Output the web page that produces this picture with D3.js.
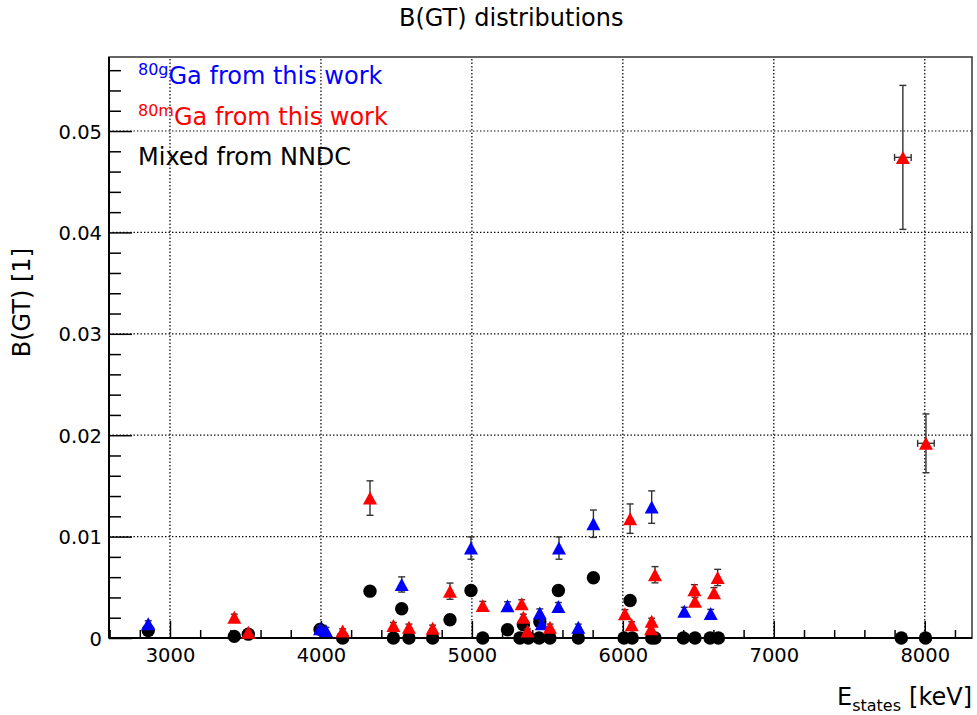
<!DOCTYPE html>
<html><head><meta charset="utf-8">
<script src="https://cdn.jsdelivr.net/npm/d3@7"></script>
<style>
body{margin:0;background:#fff}
svg text{font-family:"DejaVu Sans",sans-serif;fill:#000}
</style>
</head><body>
<svg id="c" width="977" height="715"></svg>
<script>
// ---------- data ----------
const xTicks = [3000, 4000, 5000, 6000, 7000, 8000];
const xTickLabels = ["3000", "4000", "5000", "6000", "7000", "8000"];
const yTicks = [0, 0.01, 0.02, 0.03, 0.04, 0.05];
const yTickLabels = ["0", "0.01", "0.02", "0.03", "0.04", "0.05"];

// 80g Ga from this work (blue)
const gE   = [2856, 3994, 4033, 4535, 4994, 5236, 5450, 5463, 5573, 5577, 5705, 5805, 6191, 6407, 6582];
const gB   = [0.00140, 0.00090, 0.00075, 0.00528, 0.00887, 0.00317, 0.00247, 0.00140, 0.00310, 0.00887, 0.00107, 0.01127, 0.01291, 0.00263, 0.00242];
const gErr = [0.0003, 0.0003, 0.0003, 0.00075, 0.0011, 0.0004, 0.0004, 0.0003, 0.0004, 0.0011, 0.0003, 0.00135, 0.0016, 0.0004, 0.0004];

// 80m Ga from this work (red)
const mE    = [3426, 3519, 4144, 4325, 4480, 4583, 4740, 4855, 5072, 5330, 5341, 5368, 5517, 6014, 6048, 6059, 6187, 6191, 6213, 6474, 6478, 6604, 6628, 7855, 8008];
const mB    = [0.00205, 0.00057, 0.00070, 0.01380, 0.00123, 0.00107, 0.00097, 0.00462, 0.00321, 0.00337, 0.00205, 0.00070, 0.00107, 0.00239, 0.01177, 0.00130, 0.00090, 0.00165, 0.00624, 0.00476, 0.00362, 0.00447, 0.00597, 0.04740, 0.01920];
const mErr  = [0.0003, 0.0002, 0.0002, 0.0017, 0.0003, 0.0003, 0.0003, 0.0008, 0.0004, 0.0004, 0.0003, 0.0002, 0.0003, 0.0004, 0.00145, 0.0003, 0.0002, 0.0003, 0.0008, 0.0005, 0.0004, 0.0005, 0.0008, 0.0071, 0.0029];
const mXErr = [0, 0, 0, 0, 0, 0, 0, 0, 0, 0, 0, 0, 0, 0, 0, 0, 0, 0, 0, 0, 0, 0, 0, 55, 55];

// Mixed from NNDC (black)
const nE = [2856, 3426, 3519, 3994, 4144, 4325, 4480, 4535, 4583, 4740, 4855, 4994, 5072, 5236, 5318, 5341, 5374, 5445, 5450, 5517, 5573, 5705, 5805, 6008, 6048, 6062, 6191, 6213, 6401, 6478, 6578, 6633, 7845, 8005];
const nB = [0.00074, 0.00016, 0.00038, 0.00085, 0, 0.00462, 0, 0.00288, 0, 0, 0.00180, 0.00469, 0, 0.00081, 0, 0.00130, 0, 0, 0.00160, 0, 0.00469, 0, 0.00594, 0, 0.00370, 0, 0, 0, 0, 0, 0, 0, 0, 0];

// ---------- layout ----------
const L = 109, R = 972, T = 57, B = 638;
const svg = d3.select('#c');
const x = d3.scaleLinear().domain([2596, 8313]).range([L, R]);
const y = d3.scaleLinear().domain([0, 0.0573]).range([B, T]);

// grid
const grid = svg.append('g').attr('stroke', '#000').attr('stroke-width', 1.2).attr('stroke-dasharray', '1.4,2.1');
grid.selectAll('.gx').data(xTicks).join('line').attr('class','gx')
  .attr('x1', d => x(d)).attr('x2', d => x(d)).attr('y1', B).attr('y2', T);
grid.selectAll('.gy').data(yTicks.filter(d => d > 0)).join('line').attr('class','gy')
  .attr('y1', d => y(d)).attr('y2', d => y(d)).attr('x1', L).attr('x2', R);

// frame
svg.append('rect').attr('x', L).attr('y', T).attr('width', R - L).attr('height', B - T)
  .attr('fill', 'none').attr('stroke', '#333').attr('stroke-width', 1.5);

// x axis
const xMinor = d3.range(2600, 8313, 200).filter(v => v % 1000 !== 0);
const gxMinor = svg.append('g').attr('transform', `translate(0,${B})`)
  .call(d3.axisBottom(x).tickValues(xMinor).tickSize(-8).tickFormat(''));
const gxMajor = svg.append('g').attr('transform', `translate(0,${B})`)
  .call(d3.axisBottom(x).tickValues(xTicks).tickSize(-17).tickPadding(10)
    .tickFormat((d, i) => xTickLabels[i]));
[gxMinor, gxMajor].forEach(g => { g.select('.domain').remove(); g.selectAll('line').attr('stroke', '#000').attr('stroke-width', 1.5); });
gxMajor.selectAll('text').attr('font-size', 19.5).attr('font-family', '"DejaVu Sans",sans-serif');

// y axis
const yMinor = d3.range(0.002, 0.0573, 0.002).filter(v => Math.abs(v * 100 - Math.round(v * 100)) > 1e-6);
const gyMinor = svg.append('g').attr('transform', `translate(${L},0)`)
  .call(d3.axisLeft(y).tickValues(yMinor).tickSize(-12).tickFormat(''));
const gyMajor = svg.append('g').attr('transform', `translate(${L},0)`)
  .call(d3.axisLeft(y).tickValues(yTicks).tickSize(-23).tickPadding(7)
    .tickFormat((d, i) => yTickLabels[i]));
[gyMinor, gyMajor].forEach(g => { g.select('.domain').remove(); g.selectAll('line').attr('stroke', '#000').attr('stroke-width', 1.5); });
gyMajor.selectAll('text').attr('font-size', 19.5).attr('font-family', '"DejaVu Sans",sans-serif').attr('dy', '0.36em');

// axis lines
svg.append('line').attr('x1', L).attr('x2', R).attr('y1', B).attr('y2', B).attr('stroke', '#000').attr('stroke-width', 2);
svg.append('line').attr('x1', L).attr('x2', L).attr('y1', B).attr('y2', T).attr('stroke', '#000').attr('stroke-width', 2);

// markers
const tri = (cx, cy) => `M${cx - 7},${cy + 6.5}L${cx + 7},${cy + 6.5}L${cx},${cy - 6.5}Z`;

function errBars(E, V, err, xerr) {
  const g = svg.append('g').attr('stroke', '#333').attr('stroke-width', 1.4);
  E.forEach((e, i) => {
    const cx = x(e), cy = y(V[i]);
    const y1 = y(V[i] + err[i]), y0 = y(Math.max(0, V[i] - err[i]));
    g.append('line').attr('x1', cx).attr('x2', cx).attr('y1', y1).attr('y2', y0);
    g.append('line').attr('x1', cx - 3.5).attr('x2', cx + 3.5).attr('y1', y1).attr('y2', y1);
    g.append('line').attr('x1', cx - 3.5).attr('x2', cx + 3.5).attr('y1', y0).attr('y2', y0);
    if (xerr && xerr[i] > 0) {
      const xa = x(e - xerr[i]), xb = x(e + xerr[i]);
      g.append('line').attr('x1', xa).attr('x2', xb).attr('y1', cy).attr('y2', cy);
      g.append('line').attr('x1', xa).attr('x2', xa).attr('y1', cy - 3.5).attr('y2', cy + 3.5);
      g.append('line').attr('x1', xb).attr('x2', xb).attr('y1', cy - 3.5).attr('y2', cy + 3.5);
    }
  });
}

// NNDC circles
svg.append('g').selectAll('circle').data(nE).join('circle')
  .attr('cx', d => x(d)).attr('cy', (d, i) => y(nB[i])).attr('r', 6.7).attr('fill', '#000');

// blue
errBars(gE, gB, gErr, null);
svg.append('g').selectAll('path').data(gE).join('path')
  .attr('d', (d, i) => tri(x(d), y(gB[i]))).attr('fill', '#0000ff');

// red
errBars(mE, mB, mErr, mXErr);
svg.append('g').selectAll('path').data(mE).join('path')
  .attr('d', (d, i) => tri(x(d), y(mB[i]))).attr('fill', '#ff0000');

// title
svg.append('text').attr('x', 399).attr('y', 26).attr('font-size', 24).text('B(GT) distributions');

// legend
const leg = [
  {sup: '80g', main: 'Ga from this work', color: '#0000ff', y: 84},
  {sup: '80m', main: 'Ga from this work', color: '#ff0000', y: 125}
];
leg.forEach(l => {
  const t = svg.append('text').attr('x', 138).attr('y', l.y).attr('fill', l.color).style('fill', l.color);
  t.append('tspan').attr('font-size', 16).attr('dy', -9).text(l.sup);
  t.append('tspan').attr('font-size', 24).attr('dy', 9).text(l.main);
});
svg.append('text').attr('x', 138).attr('y', 165).attr('font-size', 24).text('Mixed from NNDC');

// axis titles
const xt = svg.append('text').attr('x', 972).attr('y', 705).attr('text-anchor', 'end').attr('font-size', 24);
xt.append('tspan').text('E');
xt.append('tspan').attr('font-size', 16).attr('dy', 6).text('states');
xt.append('tspan').attr('dy', -6).attr('dx', 8).text('[keV]');

svg.append('text').attr('transform', 'translate(30,248) rotate(-90)').attr('text-anchor', 'end')
  .attr('font-size', 24).text('B(GT) [1]');
</script>
</body></html>
